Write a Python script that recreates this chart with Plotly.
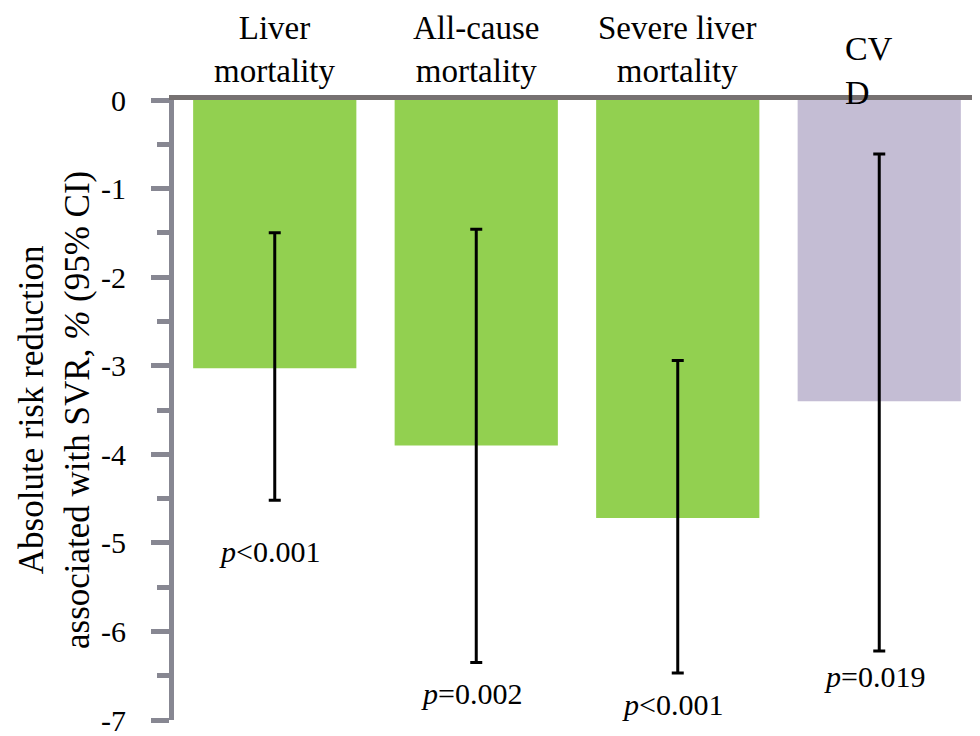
import plotly.graph_objects as go

# ---- data ----
categories = ["Liver mortality", "All-cause mortality", "Severe liver mortality", "CVD"]
category_labels = ["Liver<br>mortality", "All-cause<br>mortality", "Severe liver<br>mortality", "CV<br>D"]
values = [-3.03, -3.90, -4.72, -3.40]
ci_upper = [-1.50, -1.46, -2.94, -0.61]
ci_lower = [-4.52, -6.35, -6.47, -6.22]
p_labels = ["<i>p</i>&lt;0.001", "<i>p</i>=0.002", "<i>p</i>&lt;0.001", "<i>p</i>=0.019"]
p_label_y = [-5.10, -6.70, -6.83, -6.51]
bar_colors = ["#92D050", "#92D050", "#92D050", "#C4BDD4"]
y_tick_vals = [0, -1, -2, -3, -4, -5, -6, -7]
y_tick_text = ["0", "-1", "-2", "-3", "-4", "-5", "-6", "-7"]

FONT = "Liberation Serif, Times New Roman, serif"
AXIS_GREY = "#878792"
ZERO_GREY = "#767171"

err_plus = [u - v for u, v in zip(ci_upper, values)]
err_minus = [v - l for v, l in zip(values, ci_lower)]

fig = go.Figure()
fig.add_trace(go.Bar(
    x=categories,
    y=values,
    marker=dict(color=bar_colors, line=dict(width=0)),
    error_y=dict(type="data", symmetric=False, array=err_plus, arrayminus=err_minus,
                 color="black", thickness=3, width=6),
    showlegend=False,
))

annotations = []
# category labels above the top axis line
for cat, lab in zip(categories, category_labels):
    if cat == "CVD":
        annotations.append(dict(x=cat, xref="x", y=1, yref="paper", text=lab, showarrow=False,
                                xanchor="center", yanchor="bottom", align="left",
                                xshift=-10, yshift=-13, font=dict(family=FONT, size=34, color="black")))
    else:
        annotations.append(dict(x=cat, xref="x", y=1, yref="paper", text=lab, showarrow=False,
                                xanchor="center", yanchor="bottom", align="center",
                                yshift=9, font=dict(family=FONT, size=33, color="black")))
# p-value labels
for cat, txt, py in zip(categories, p_labels, p_label_y):
    annotations.append(dict(x=cat, xref="x", y=py, yref="y", text=txt, showarrow=False,
                            xanchor="center", yanchor="middle", xshift=-5,
                            font=dict(family=FONT, size=30, color="black")))
# y-axis title
annotations.append(dict(x=0, xref="paper", y=0.5, yref="paper",
                        text="Absolute risk reduction<br>associated with SVR, <i>%</i> (95% CI)",
                        textangle=-90, showarrow=False, xanchor="center", yanchor="middle",
                        xshift=-120, font=dict(family=FONT, size=35, color="black")))

# the page places the figure 8px from the top-left corner, so the figure is
# sized to fill the remaining 972x728 area of the 980x736 window
fig.update_layout(
    width=972, height=728,
    margin=dict(l=166, r=0, t=92, b=16),
    paper_bgcolor="white", plot_bgcolor="white",
    bargap=0.19,
    annotations=annotations,
    xaxis=dict(side="top", showline=True, linecolor=ZERO_GREY, linewidth=5,
               showticklabels=False, ticks="", showgrid=False, zeroline=False,
               range=[-0.5, 3.5], layer="above traces"),
    yaxis=dict(range=[-7, 0], tickvals=y_tick_vals, ticktext=y_tick_text,
               ticks="outside", ticklen=18, tickwidth=5, tickcolor=AXIS_GREY,
               minor=dict(dtick=0.5, ticks="outside", ticklen=12, tickwidth=5, tickcolor=AXIS_GREY),
               showline=True, linecolor=AXIS_GREY, linewidth=5,
               showgrid=False, zeroline=False, ticklabelstandoff=19,
               ticklabeloverflow="allow",
               tickfont=dict(family=FONT, size=30, color="black")),
)

fig.write_html("out.html")
